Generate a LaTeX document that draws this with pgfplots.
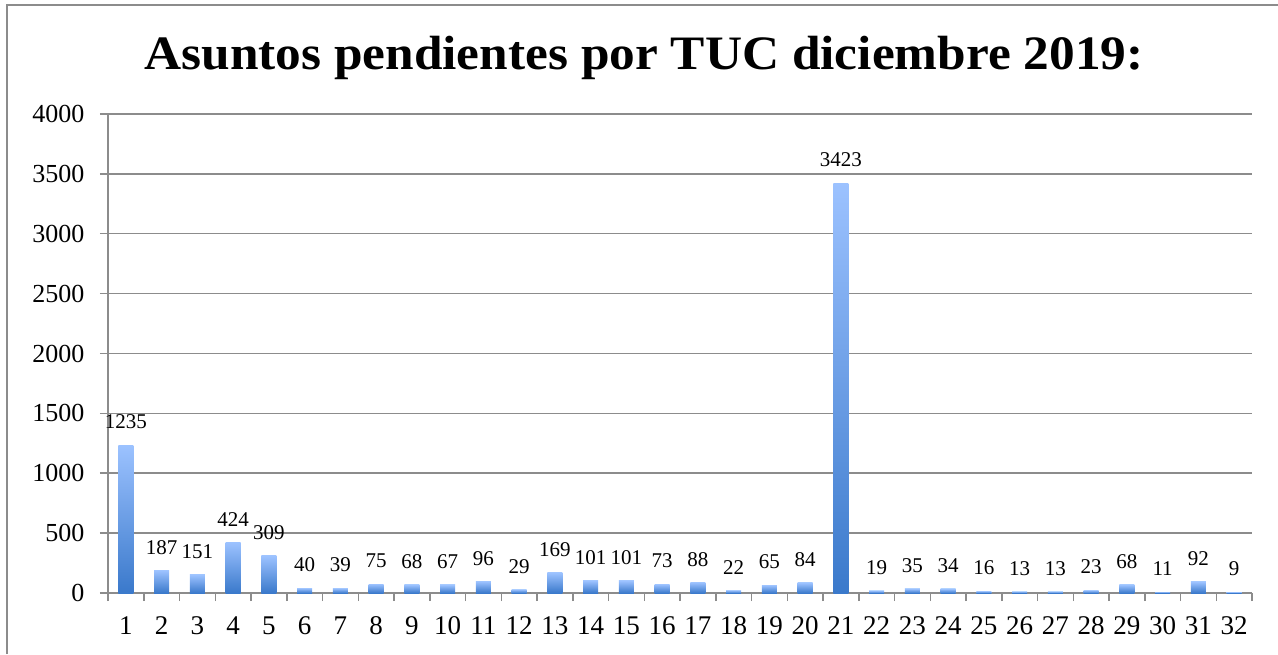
\documentclass[border=0pt]{standalone}
\usepackage{fontspec}
\setmainfont{Liberation Serif}
\usepackage{pgfplots}
\pgfplotsset{compat=1.18}
\definecolor{barTop}{HTML}{9CC2FF}
\definecolor{barBot}{HTML}{3A79CB}
\definecolor{gridGray}{HTML}{8C8C8C}
\pgfplotsset{tucbar/.style={draw=none, top color=barTop, bottom color=barBot, bar shift=0pt}}
\begin{document}
\begin{tikzpicture}[x=1pt,y=1pt]
\useasboundingbox (0,0) rectangle (1278,654);
\draw[gridGray, line width=2pt] (7,0) -- (7,649) -- (1278,649);
\node[anchor=base, font=\fontsize{48}{52}\selectfont\bfseries] at (644,584)
  {\scalebox{1.07}[1]{Asuntos pendientes por TUC diciembre 2019:}};
\begin{axis}[
  at={(108pt,61pt)}, anchor=south west,
  scale only axis, width=1144pt, height=479pt,
  xmin=0.5, xmax=32.5, ymin=0, ymax=4000,
  xtick={1,...,32}, minor xtick={0.5,1.5,...,32.5},
  ytick={0,500,...,4000},
  tick align=outside, major tick length=8pt, minor tick length=8pt,
  major x tick style={draw=none},
  tick style={gridGray, line width=1.5pt},
  axis x line*=bottom, axis y line*=left,
  axis line style={gridGray, line width=1.5pt},
  ymajorgrids, grid style={gridGray, line width=1.5pt},
  scaled y ticks=false,
  /pgf/number format/1000 sep={},
  /pgf/number format/assume math mode=true,
  yticklabel style={font=\fontsize{26}{26}\selectfont, xshift=-12pt},
  xticklabel style={font=\fontsize{27}{27}\selectfont, yshift=-12pt},
  ybar, bar width=15pt,
  nodes near coords,
  every node near coord/.append style={font=\fontsize{21}{21}\selectfont, anchor=south, inner sep=0pt, yshift=16pt},
]
\addplot[tucbar] coordinates {(1,1235)};
\addplot[tucbar] coordinates {(2,187)};
\addplot[tucbar] coordinates {(3,151)};
\addplot[tucbar] coordinates {(4,424)};
\addplot[tucbar] coordinates {(5,309)};
\addplot[tucbar] coordinates {(6,40)};
\addplot[tucbar] coordinates {(7,39)};
\addplot[tucbar] coordinates {(8,75)};
\addplot[tucbar] coordinates {(9,68)};
\addplot[tucbar] coordinates {(10,67)};
\addplot[tucbar] coordinates {(11,96)};
\addplot[tucbar] coordinates {(12,29)};
\addplot[tucbar] coordinates {(13,169)};
\addplot[tucbar] coordinates {(14,101)};
\addplot[tucbar] coordinates {(15,101)};
\addplot[tucbar] coordinates {(16,73)};
\addplot[tucbar] coordinates {(17,88)};
\addplot[tucbar] coordinates {(18,22)};
\addplot[tucbar] coordinates {(19,65)};
\addplot[tucbar] coordinates {(20,84)};
\addplot[tucbar] coordinates {(21,3423)};
\addplot[tucbar] coordinates {(22,19)};
\addplot[tucbar] coordinates {(23,35)};
\addplot[tucbar] coordinates {(24,34)};
\addplot[tucbar] coordinates {(25,16)};
\addplot[tucbar] coordinates {(26,13)};
\addplot[tucbar] coordinates {(27,13)};
\addplot[tucbar] coordinates {(28,23)};
\addplot[tucbar] coordinates {(29,68)};
\addplot[tucbar] coordinates {(30,11)};
\addplot[tucbar] coordinates {(31,92)};
\addplot[tucbar] coordinates {(32,9)};
\end{axis}
\end{tikzpicture}
\end{document}
